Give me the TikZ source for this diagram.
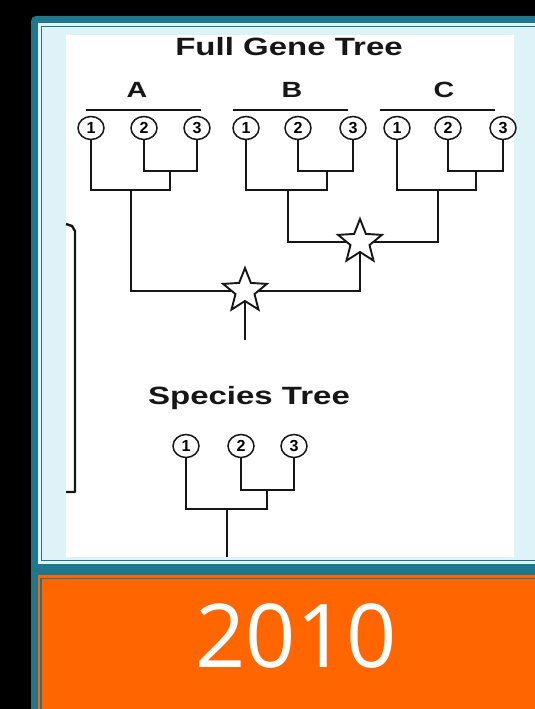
\documentclass[tikz,border=0pt]{standalone}
\usepackage{fontspec}
\usepackage{graphicx}
\setmainfont{Liberation Sans}
\newfontfamily\yearfont{Open Sans}
\usetikzlibrary{shapes.geometric}
\definecolor{frameteal}{HTML}{1F778D}
\definecolor{panelblue}{HTML}{DDF3F8}
\definecolor{yearorange}{HTML}{FF6600}
\definecolor{ink}{HTML}{161616}
\tikzset{
  leaf/.style={ellipse, draw=ink, line width=1.5pt, minimum width=26pt, minimum height=23pt, inner sep=0pt, fill=white,
    font=\bfseries\fontsize{16}{16}\selectfont},
  branch/.style={draw=ink, line width=2.8pt},
  bar/.style={draw=ink, line width=2.2pt},
  dupstar/.style={star, star points=5, star point ratio=2.3, minimum size=46pt, inner sep=0pt, draw=ink, fill=white, line width=1.9pt},
  heading/.style={font=\bfseries\fontsize{25}{30}\selectfont, text=ink, inner sep=0pt},
  clade/.style={font=\bfseries\fontsize{22}{26}\selectfont, text=ink, inner sep=0pt},
}
\begin{document}
\begin{tikzpicture}[x=1pt,y=-1pt]
\useasboundingbox (0,0) rectangle (535,709);
% frame
\fill[black] (0,0) rectangle (535,709);
\fill[frameteal, rounded corners=5pt] (31,16) rectangle (570,760);
\fill[panelblue] (38,23) rectangle (570,564);
\draw[frameteal, line width=1.8pt] (41.5,26.5) rectangle (580,560.5);
\fill[white] (66,35) rectangle (514,557);
\fill[yearorange] (38,575) rectangle (570,760);
\draw[frameteal, line width=1.8pt] (41,578.5) rectangle (580,770);
\node[font=\yearfont\fontsize{88}{88}\selectfont, text=white, inner sep=0pt] (year) at (296,636) {2010};

% headings
\node[heading] (fgt) at (289,47) {\scalebox{1.32}[1]{Full Gene Tree}};
\node[heading] (spt) at (249,398) {\scalebox{1.32}[1]{Species Tree}};
\node[clade] (lA) at (137,90) {\scalebox{1.3}[1]{A}};
\node[clade] (lB) at (292,90) {\scalebox{1.3}[1]{B}};
\node[clade] (lC) at (444,90) {\scalebox{1.3}[1]{C}};
\coordinate (barA1) at (86,110); \coordinate (barA2) at (201,110);
\coordinate (barB1) at (233,110); \coordinate (barB2) at (348,110);
\coordinate (barC1) at (380,110); \coordinate (barC2) at (495,110);
\draw[bar] (barA1) -- (barA2);
\draw[bar] (barB1) -- (barB2);
\draw[bar] (barC1) -- (barC2);

% left bracket
\coordinate (brt) at (66,224); \coordinate (brb) at (66,492);
\draw[branch, line width=2.4pt, line join=round] (brt) -- (72,226) -- (75,231) -- (75,492) -- (brb);

% junction coordinates
\coordinate (ja23) at (170,171); \coordinate (ja) at (131,190);
\coordinate (jb23) at (327,171); \coordinate (jb) at (288,190);
\coordinate (jc23) at (476,171); \coordinate (jc) at (438,190);
\coordinate (p1) at (360,242); \coordinate (p2) at (245,291);
\coordinate (root) at (245,340);
\coordinate (js23) at (267,490); \coordinate (js) at (227,509);
\coordinate (sroot) at (227,557);

% leaves
\node[leaf] (a1) at (91,128) {1};
\node[leaf] (a2) at (144,128) {2};
\node[leaf] (a3) at (197,128) {3};
\node[leaf] (b1) at (246,128) {1};
\node[leaf] (b2) at (298,128) {2};
\node[leaf] (b3) at (353,128) {3};
\node[leaf] (c1) at (397,128) {1};
\node[leaf] (c2) at (448,128) {2};
\node[leaf] (c3) at (503,128) {3};
\node[leaf] (s1) at (186,446) {1};
\node[leaf] (s2) at (241,446) {2};
\node[leaf] (s3) at (294,446) {3};

% gene tree branches
\draw[branch] (a2.south) |- (ja23) -| (a3.south);
\draw[branch] (a1.south) |- (ja) -| (ja23);
\draw[branch] (b2.south) |- (jb23) -| (b3.south);
\draw[branch] (b1.south) |- (jb) -| (jb23);
\draw[branch] (c2.south) |- (jc23) -| (c3.south);
\draw[branch] (c1.south) |- (jc) -| (jc23);
\draw[branch] (jb) |- (p1);
\draw[branch] (jc) |- (p1);
\draw[branch] (p1) |- (p2);
\draw[branch] (ja) |- (p2);
\draw[branch] (p2) -- (root);
\node[dupstar] (st1) at (p1) {};
\node[dupstar] (st2) at (p2) {};

% species tree branches
\draw[branch] (s2.south) |- (js23) -| (s3.south);
\draw[branch] (s1.south) |- (js) -| (js23);
\draw[branch] (js) -- (sroot);
\end{tikzpicture}
\end{document}
